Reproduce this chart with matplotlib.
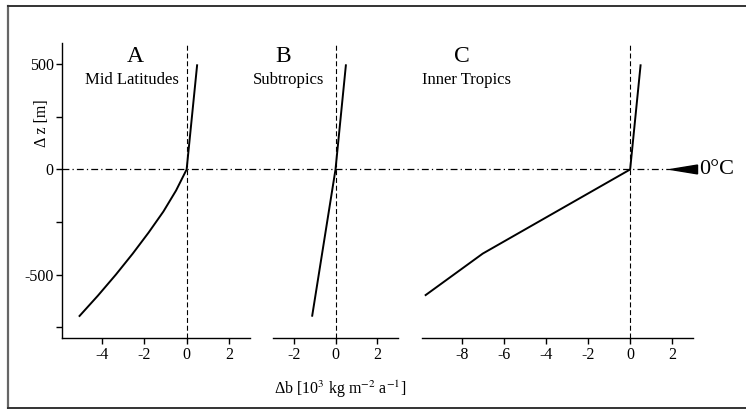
import matplotlib
matplotlib.use('Agg')
import matplotlib.pyplot as plt
from matplotlib.lines import Line2D
from matplotlib.patches import Polygon
from matplotlib.ticker import MultipleLocator

plt.rcParams['font.family'] = 'Liberation Serif'
plt.rcParams['mathtext.fontset'] = 'stix'
plt.rcParams['axes.unicode_minus'] = False

# elevation change relative to the 0 degC level [m] and balance change
z_mid = [-700, -600, -500, -400, -300, -200, -100, 0, 250, 500]
b_mid = [-5.1, -4.2, -3.35, -2.55, -1.8, -1.1, -0.5, 0, 0.25, 0.5]

z_sub = [-700, 0, 500]
b_sub = [-1.12, 0, 0.5]

z_inner = [-600, -400, 0, 500]
b_inner = [-9.75, -7.0, 0, 0.5]

panels = ['A', 'B', 'C']
names = ['Mid Latitudes', 'Subtropics', 'Inner Tropics']
xlims = [(-5.9, 3), (-3, 3), (-9.9, 3)]
xticks = [[-4, -2, 0, 2], [-2, 0, 2], [-8, -6, -4, -2, 0, 2]]
ylim = (-800, 600)

W, H = 746, 409
fig = plt.figure(figsize=(W / 100, H / 100), dpi=100)

# axes boxes in pixels: left, width
boxes = [(62, 188), (272.7, 125.6), (421.7, 271.6)]
top_px, bot_px = 43.3, 337.7
axes = []
for (l, w) in boxes:
    ax = fig.add_axes([l / W, 1 - bot_px / H, w / W, (bot_px - top_px) / H])
    axes.append(ax)

data = [(b_mid, z_mid), (b_sub, z_sub), (b_inner, z_inner)]
label_x = [(-2.44, -2.6), (-2.49, -2.25), (-7.99, -7.76)]

for i, ax in enumerate(axes):
    ax.set_xlim(*xlims[i])
    ax.set_ylim(*ylim)
    ax.set_xticks(xticks[i])
    ax.plot(data[i][0], data[i][1], color='black', lw=1.4, solid_capstyle='butt')
    ax.axvline(0, color='black', lw=0.8, linestyle=(0, (4.5, 2.5)))
    for s in ['top', 'right']:
        ax.spines[s].set_visible(False)
    ax.spines['bottom'].set_linewidth(1.0)
    ax.spines['left'].set_linewidth(1.0)
    ax.tick_params(axis='x', direction='out', length=4, width=1, labelsize=11.5, pad=3)
    ax.text(label_x[i][0], 537, panels[i], ha='center', va='center', fontsize=17)
    ax.text(label_x[i][1], 427, names[i], ha='center', va='center', fontsize=12)
    if i == 0:
        ax.set_yticks([-500, 0, 500])
        ax.yaxis.set_minor_locator(MultipleLocator(250))
        ax.tick_params(axis='y', which='both', direction='out', length=4, width=1,
                       labelsize=11.5, pad=2)
        ax.set_ylabel('Δ z [m]', fontsize=11.5)
        ax.yaxis.set_label_coords(-0.062, 0.729)
    else:
        ax.spines['left'].set_visible(False)
        ax.set_yticks([])

axes[1].set_xlabel('Δb [10$^3$ kg m$^{-2}$ a$^{-1}$]', fontsize=11.5)
axes[1].xaxis.set_label_coords(0.535, -0.14)

# 0 degC level across all panels
tip_x, base_x, half_h = 1.92, 3.2, 21
inv = fig.transFigure.inverted()
p0 = inv.transform(axes[0].transData.transform((xlims[0][0], 0)))
p1 = inv.transform(axes[2].transData.transform((tip_x, 0)))
fig.add_artist(Line2D([p0[0], p1[0]], [p0[1], p1[1]], transform=fig.transFigure,
                      color='black', lw=0.9, linestyle=(0, (5.5, 2.5, 1, 2.5))))
axes[2].add_patch(Polygon([(tip_x, 0), (base_x, half_h), (base_x, -half_h)],
                          closed=True, color='black', clip_on=False))
axes[2].text(3.27, 0, '0°C', ha='left', va='center', fontsize=16, clip_on=False)

# frame around the figure (right side runs off the image)
fig.add_artist(Line2D([7.5 / W, 7.5 / W], [1 - 5.5 / H, 1 - 407.5 / H],
                      transform=fig.transFigure, color='#666666', lw=1.6))
fig.add_artist(Line2D([7.5 / W, 1.0], [1 - 5.5 / H, 1 - 5.5 / H],
                      transform=fig.transFigure, color='#333333', lw=1.4))
fig.add_artist(Line2D([7.5 / W, 1.0], [1 - 407.5 / H, 1 - 407.5 / H],
                      transform=fig.transFigure, color='#333333', lw=1.4))

fig.savefig('out.png', dpi=100)
plt.close(fig)
